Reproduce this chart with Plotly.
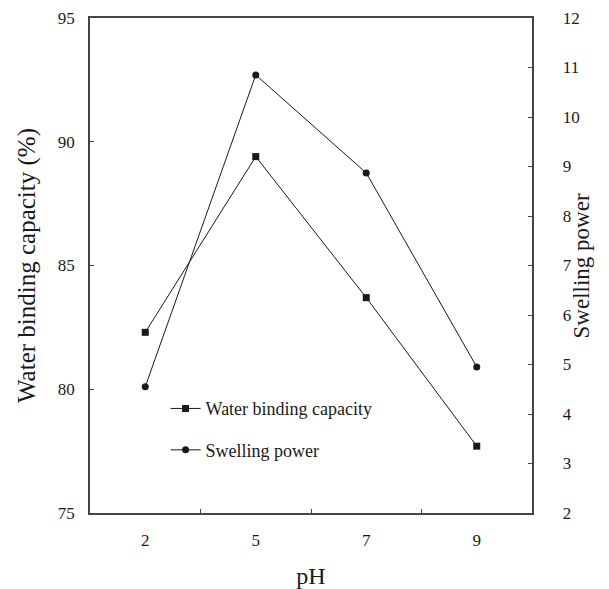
import plotly.graph_objects as go

ph_labels = ["2", "5", "7", "9"]
water_binding = [82.3, 89.4, 83.7, 77.7]
swelling_power = [4.55, 10.85, 8.87, 4.95]

xpos = list(range(len(ph_labels)))
FONT = "Liberation Serif, Times New Roman, serif"
INK = "#1a1a1a"

fig = go.Figure()
fig.add_trace(go.Scatter(
    x=xpos, y=water_binding, name="Water binding capacity",
    mode="lines+markers", legendgroup="a",
    line=dict(color=INK, width=1),
    marker=dict(symbol="square", size=7, color=INK),
    yaxis="y"))
fig.add_trace(go.Scatter(
    x=xpos, y=swelling_power, name="Swelling power",
    mode="lines+markers", legendgroup="b",
    line=dict(color=INK, width=1),
    marker=dict(symbol="circle", size=7, color=INK),
    yaxis="y2"))

fig.update_layout(
    width=601, height=581,
    paper_bgcolor="white", plot_bgcolor="white",
    margin=dict(l=82, r=77, t=10, b=76, autoexpand=False),
    font=dict(family=FONT, color=INK, size=17),
    showlegend=True,
    legend=dict(x=0.171, y=0.248, xanchor="left", yanchor="top",
                bgcolor="rgba(0,0,0,0)", font=dict(size=18, family=FONT),
                tracegroupgap=15, itemwidth=30),
    xaxis=dict(
        range=[-0.5, 3.5], tickmode="array", tickvals=xpos, ticktext=ph_labels,
        ticks="", showgrid=False, zeroline=False, automargin=True,
        showline=True, linecolor="#444", linewidth=1.5, mirror=True,
        ticklabelstandoff=11,
        minor=dict(tickmode="array", tickvals=[0.5, 1.5, 2.5], ticks="inside",
                   ticklen=4, tickcolor="#444", showgrid=False),
        title=dict(text="pH", font=dict(size=24, family=FONT), standoff=18),
        tickfont=dict(size=17, family=FONT)),
    yaxis=dict(
        range=[75, 95], dtick=5, ticks="inside", ticklen=4, tickcolor="#444",
        showgrid=False, zeroline=False, automargin=True,
        showline=True, linecolor="#444", linewidth=1.5,
        ticklabelstandoff=10,
        title=dict(text="Water binding capacity (%)", font=dict(size=25, family=FONT), standoff=15),
        tickfont=dict(size=17, family=FONT)),
    yaxis2=dict(
        range=[2, 12], dtick=1, overlaying="y", side="right",
        ticks="inside", ticklen=4, tickcolor="#444",
        showgrid=False, zeroline=False, automargin=False,
        showline=True, linecolor="#444", linewidth=1.5,
        ticklabelstandoff=18, tickprefix="\u00a0\u2009",
        tickfont=dict(size=17, family=FONT)),
    annotations=[dict(
        text="Swelling power", xref="paper", yref="paper",
        x=1.113, y=0.5, xanchor="center", yanchor="middle",
        textangle=-90, showarrow=False,
        font=dict(size=23, family=FONT, color=INK))],
)

fig.write_html("out.html")
